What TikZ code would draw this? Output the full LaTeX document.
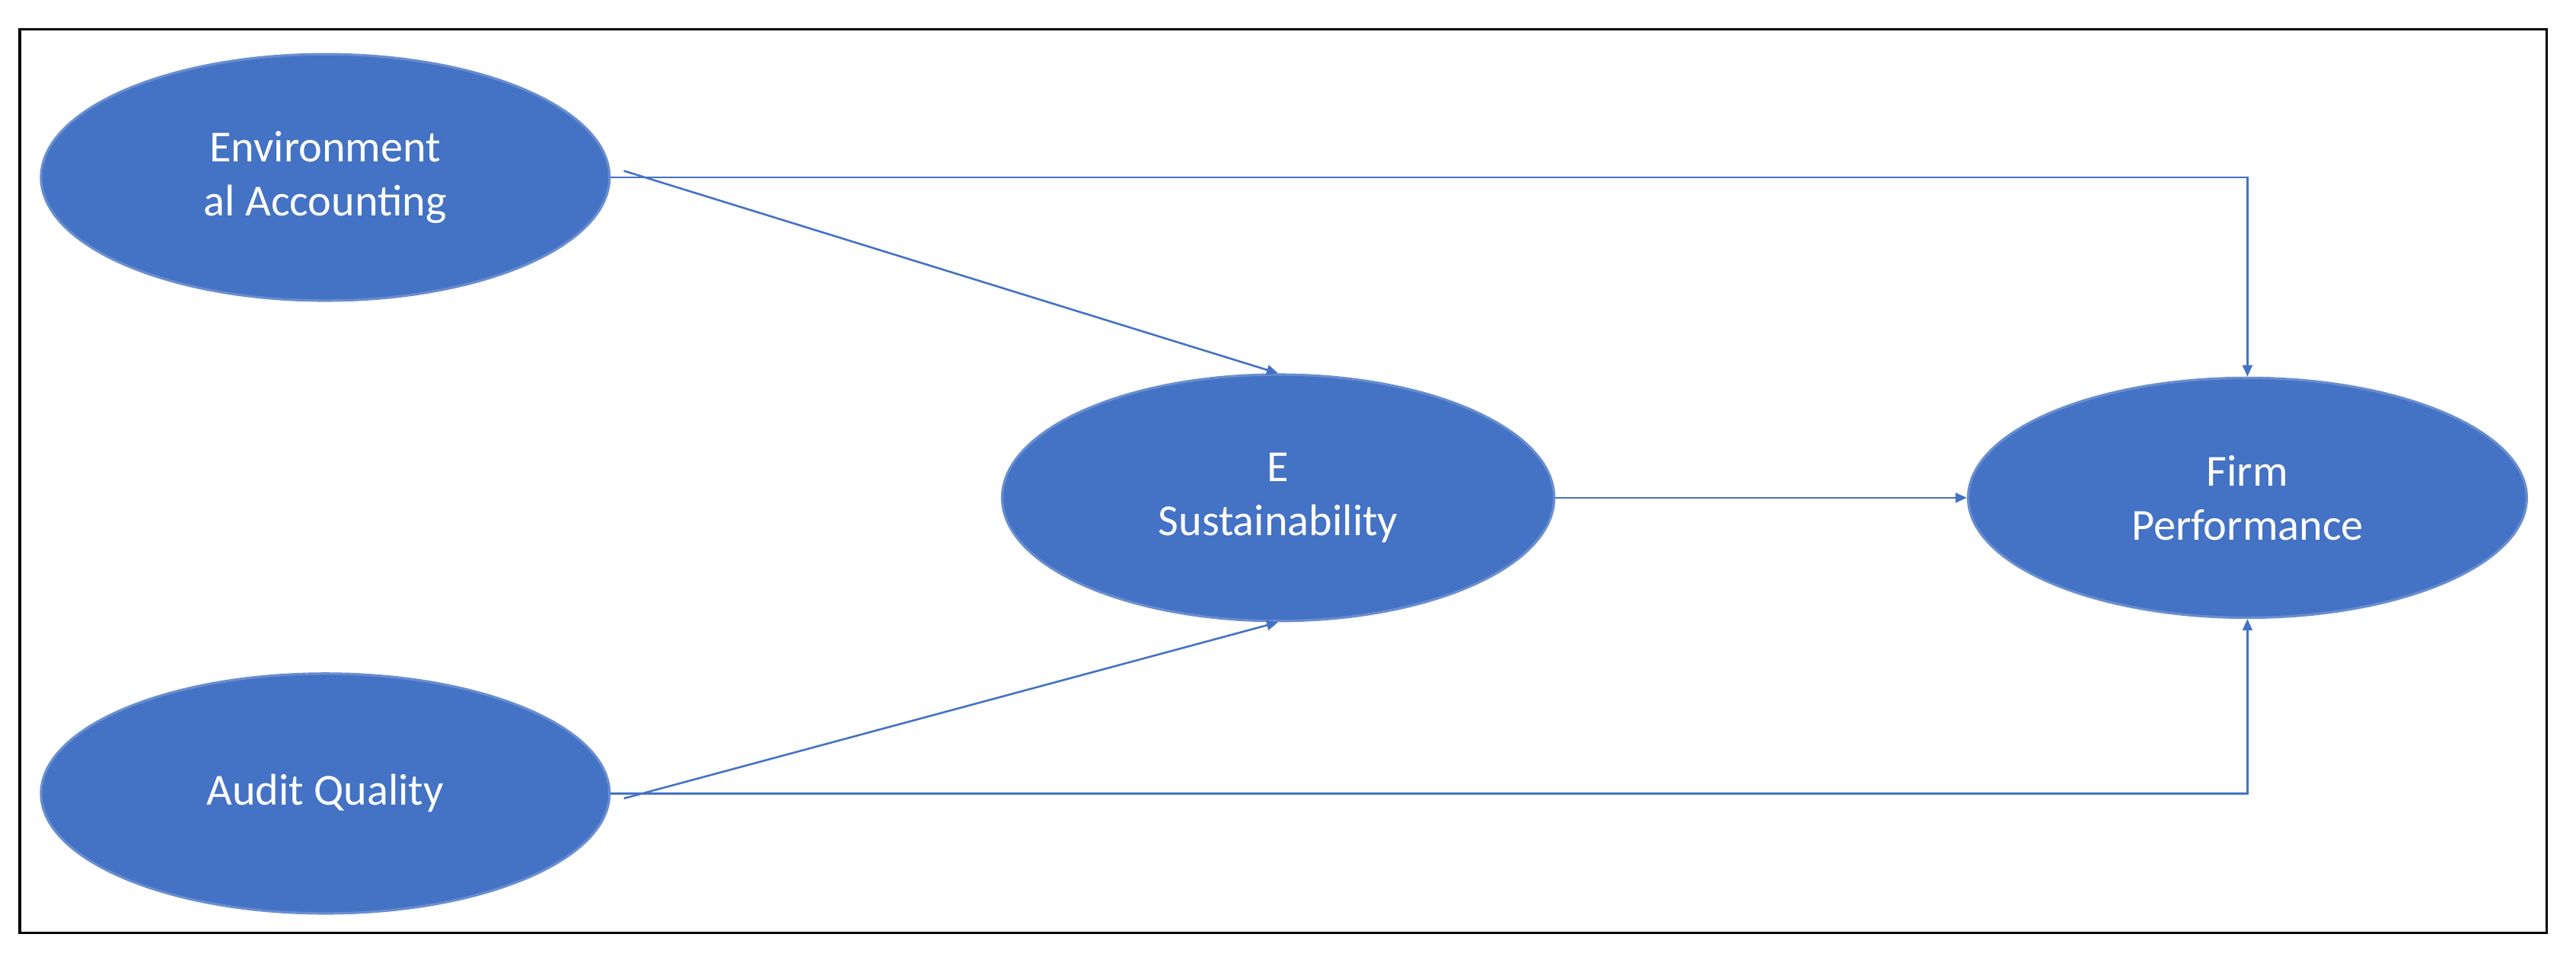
\documentclass[tikz,border=0pt]{standalone}
\usepackage{fontspec}
\setmainfont{Carlito}
\usetikzlibrary{shapes.geometric,arrows.meta}
\definecolor{bl}{HTML}{4472C4}
\begin{document}
\begin{tikzpicture}[x=1pt,y=-1pt,
  ell/.style={ellipse,fill=bl,draw=bl!80!white,line width=1.5pt,text=white,font=\fontsize{27}{33}\selectfont,align=center,inner sep=0pt},
  conn/.style={draw=bl,line width=1.2pt,-{Triangle[length=7pt,width=6pt]}}]
\useasboundingbox (0,0) rectangle (1568,587.6);
\draw[line width=1.5pt] (12,18) rectangle (1550,568);
\node[ell,minimum width=346pt,minimum height=150pt] (ea) at (198,108) {Environment\\al Accounting};
\node[ell,minimum width=346pt,minimum height=146pt] (aq) at (198,483) {Audit Quality};
\node[ell,minimum width=336pt,minimum height=150pt] (es) at (778,303) {E\\Sustainability};
\node[ell,minimum width=340pt,minimum height=146pt] (fp) at (1368,303) {Firm\\Performance};
\draw[conn] (ea.east) -- (ea.east -| fp.north) -- (fp.north);
\draw[conn] (aq.east) -- (aq.east -| fp.south) -- (fp.south);
\draw[conn] ([xshift=8pt,yshift=4pt]ea.east) -- (es.north);
\draw[conn] ([xshift=8pt,yshift=-3pt]aq.east) -- (es.south);
\draw[conn] (es.east) -- (fp.west);
\end{tikzpicture}
\end{document}
